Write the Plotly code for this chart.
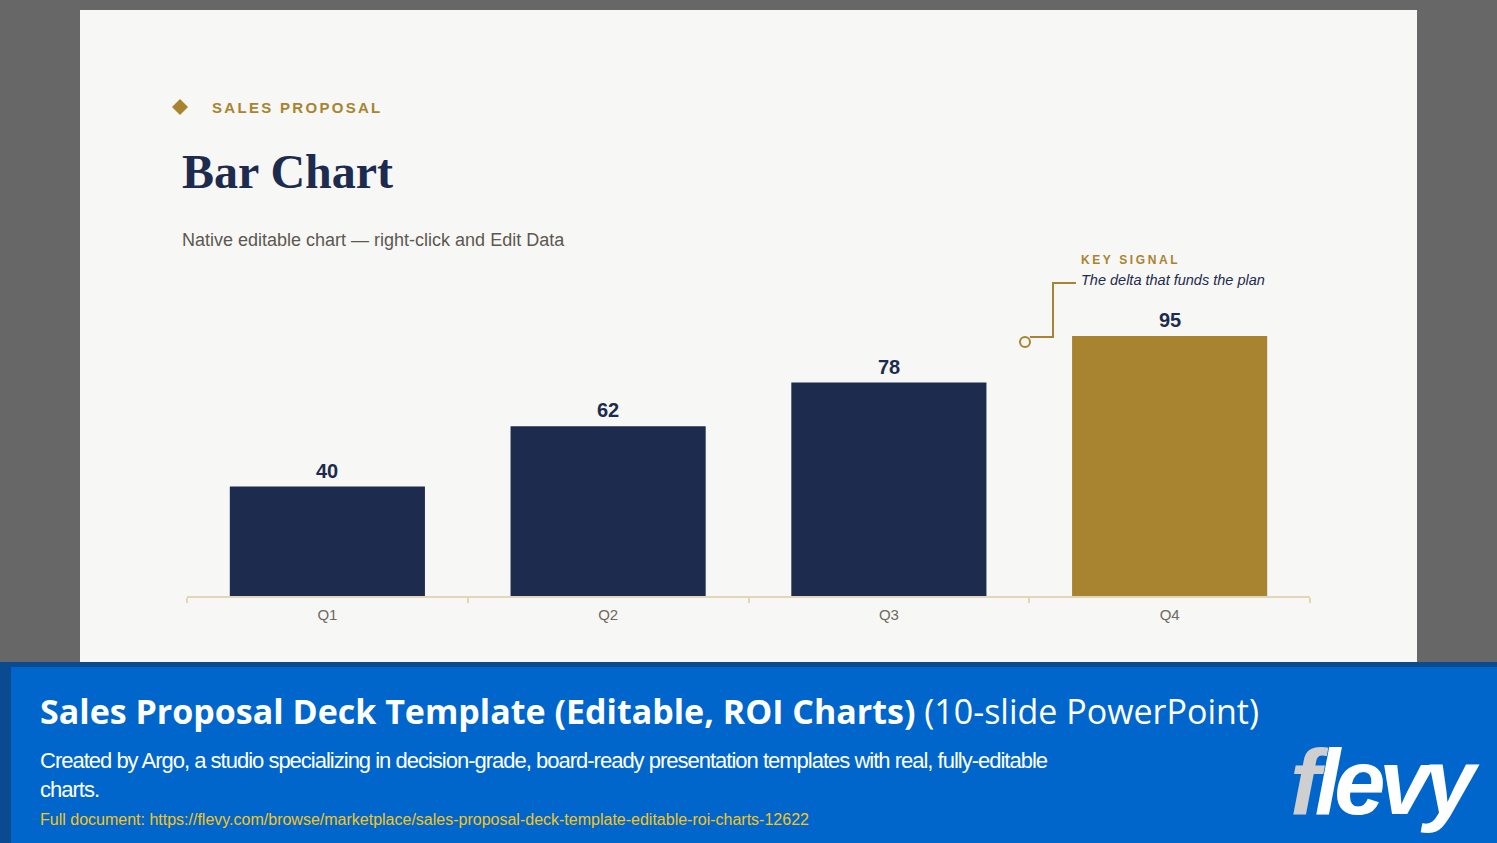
import plotly.graph_objects as go

# ---- data ----
categories = ["Q1", "Q2", "Q3", "Q4"]
values = [40, 62, 78, 95]
bar_colors = ["#1c2b4e", "#1c2b4e", "#1c2b4e", "#a88430"]

eyebrow = "SALES PROPOSAL"
title = "Bar Chart"
subtitle = "Native editable chart — right-click and Edit Data"
callout_head = "KEY SIGNAL"
callout_text = "The delta that funds the plan"
banner_title_bold = "Sales Proposal Deck Template (Editable, ROI Charts)"
banner_title_rest = "(10-slide PowerPoint)"
banner_desc = "Created by Argo, a studio specializing in decision-grade, board-ready presentation templates with real, fully-editable<br>charts."
banner_link = "Full document: https://flevy.com/browse/marketplace/sales-proposal-deck-template-editable-roi-charts-12622"

# ---- layout geometry (pixels) ----
W, H = 1497, 843
PL, PR, PT, PB = 187, 1310, 281, 596
PW, PH = PR - PL, PB - PT
YMAX = 115.1


def px(x):
    return (x - PL) / PW


def py(y):
    return (PB - y) / PH


NAVY = "#1c2b4e"
GOLD = "#a88430"
SLIDE = "#f7f7f5"

fig = go.Figure()
fig.add_trace(go.Bar(
    x=categories, y=values,
    marker=dict(color=bar_colors, line=dict(width=0)),
    cliponaxis=False, hoverinfo="skip", width=0.695,
))

shapes = [
    # slide background
    dict(type="rect", xref="paper", yref="paper", x0=px(80), x1=px(1417), y0=py(662), y1=py(10),
         fillcolor=SLIDE, line=dict(width=0), layer="below"),
    # banner
    dict(type="rect", xref="paper", yref="paper", x0=px(0), x1=px(W), y0=py(H), y1=py(662),
         fillcolor="#0b4a8e", line=dict(width=0), layer="below"),
    dict(type="rect", xref="paper", yref="paper", x0=px(11), x1=px(W), y0=py(H), y1=py(667),
         fillcolor="#0066cc", line=dict(width=0), layer="below"),
    # diamond
    dict(type="path", xref="paper", yref="paper",
         path=f"M {px(180)} {py(99)} L {px(188)} {py(107)} L {px(180)} {py(115)} L {px(172)} {py(107)} Z",
         fillcolor=GOLD, line=dict(width=0)),
    # connector
    dict(type="path", xref="paper", yref="paper",
         path=f"M {px(1030)} {py(337)} L {px(1053)} {py(337)} L {px(1053)} {py(283)} L {px(1076)} {py(283)}",
         line=dict(color=GOLD, width=2)),
    dict(type="circle", xref="paper", yref="paper", x0=px(1020), x1=px(1030), y0=py(347), y1=py(337),
         line=dict(color=GOLD, width=2), fillcolor=SLIDE),
]

ann = []

# value labels above bars
for c, v in zip(categories, values):
    ann.append(dict(x=c, y=v, xref="x", yref="y", text=f"<b>{v}</b>", showarrow=False,
                    yanchor="middle", yshift=16,
                    font=dict(family="Liberation Sans", size=20, color=NAVY)))


def add(x, y, text, size, color, family="Liberation Sans", xanchor="left", yanchor="middle", **kw):
    ann.append(dict(xref="paper", yref="paper", x=px(x), y=py(y), text=text, showarrow=False,
                    xanchor=xanchor, yanchor=yanchor, align="left",
                    font=dict(family=family, size=size, color=color, **kw)))


add(210, 108, f"<span style='letter-spacing:2.3px'>{eyebrow}</span>", 15, GOLD, weight="bold")
add(180, 172, title, 48, NAVY, family="Liberation Serif", weight="bold")
add(180, 240, subtitle, 18, "#5d5750")
add(1079, 260, f"<span style='letter-spacing:2.6px'>{callout_head}</span>", 12, GOLD, weight="bold")
add(1079, 280, callout_text, 14.5, NAVY, style="italic")

add(38, 711, f"<b>{banner_title_bold}</b> {banner_title_rest}", 34, "#ffffff", family="Open Sans")
add(38, 775, f"<span style='letter-spacing:-1px'>{banner_desc}</span>", 22, "#ffffff")
add(38, 819, banner_link, 16, "#f5c518")
add(1288, 782, "<span style='letter-spacing:-6px'><span style='fill:#cfcfcf'>f</span>levy</span>", 92,
    "#ffffff", family="Liberation Sans", weight="bold", style="italic")

fig.update_layout(
    width=W, height=H, autosize=False,
    margin=dict(l=PL, r=W - PR, t=PT, b=H - PB, pad=0),
    paper_bgcolor="#676767", plot_bgcolor="rgba(0,0,0,0)",
    showlegend=False, bargap=0.305,
    shapes=shapes, annotations=ann,
    xaxis=dict(showgrid=False, zeroline=False, showline=True, linecolor="#e2d5b8", linewidth=1.5,
               ticks="outside", tickson="boundaries", ticklen=5, tickcolor="#e2d5b8", tickwidth=1.5,
               ticklabelstandoff=4,
               tickfont=dict(family="Liberation Sans", size=15, color="#6e6862"), fixedrange=True),
    yaxis=dict(range=[0, YMAX], visible=False, fixedrange=True),
)

fig.write_html("out.html")
